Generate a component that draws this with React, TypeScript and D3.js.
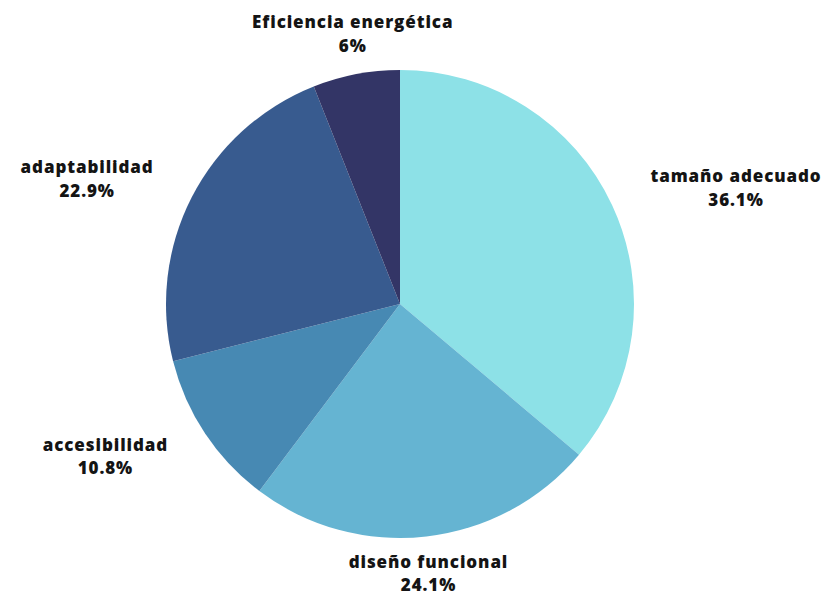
import React, { useEffect, useRef } from "react";
import * as d3 from "d3";

const categories = ["tamaño adecuado", "diseño funcional", "accesibilidad", "adaptabilidad", "Eficiencia energética"];
const values = [36.1, 24.1, 10.8, 22.9, 6];
const valueLabels = ["36.1%", "24.1%", "10.8%", "22.9%", "6%"];
const colors = ["#8de1e7", "#65b4d2", "#4789b3", "#385b8f", "#333566"];

const W = 821;
const H = 597;

export default function App() {
  const ref = useRef<SVGSVGElement | null>(null);

  useEffect(() => {
    const svg = d3.select(ref.current);
    svg.selectAll("*").remove();
    const cx = 400, cy = 304, r = 234;
    const g = svg.append("g").attr("transform", `translate(${cx},${cy})`);
    const pie = d3.pie<number>().sort(null).value((d) => d);
    const arcs = pie(values);
    const arc = d3.arc<d3.PieArcDatum<number>>().innerRadius(0).outerRadius(r);
    g.selectAll("path.slice")
      .data(arcs)
      .join("path")
      .attr("class", "slice")
      .attr("d", arc as any)
      .attr("fill", (_, i) => colors[i]);

    const fontSize = 17;
    const lineH = 23.5;
    const labelR = 252;
    arcs.forEach((a, i) => {
      const mid = (a.startAngle + a.endAngle) / 2;
      const s = Math.sin(mid), c = Math.cos(mid);
      const t = g.append("text")
        .attr("text-anchor", "middle")
        .attr("font-family", "'Open Sans', sans-serif")
        .attr("font-weight", 800)
        .attr("font-size", fontSize)
        .attr("letter-spacing", 0.9)
        .attr("fill", "#141414");
      const l1 = t.append("tspan").attr("x", 0).attr("y", 0).text(categories[i]);
      t.append("tspan").attr("x", 0).attr("y", lineH).text(valueLabels[i]);
      const w = (l1.node() as SVGTextContentElement).getComputedTextLength();
      const h = 46;
      let x = s * labelR;
      if (Math.abs(s) > 0.5) x += Math.sign(s) * (w / 2 + 22);
      const yc = -c * labelR - c * h / 2;
      let y1 = yc - h / 2 + 17.5;
      // keep the whole text box inside the picture
      const bottom = cy + y1 + lineH + fontSize * 0.3;
      if (bottom > H - 0.5) y1 -= bottom - (H - 0.5);
      t.attr("transform", `translate(${x},${y1})`);
    });
  }, []);

  return (
    <svg ref={ref} width={W} height={H} style={{ position: "absolute", left: 0, top: 0, background: "#fff" }} />
  );
}
